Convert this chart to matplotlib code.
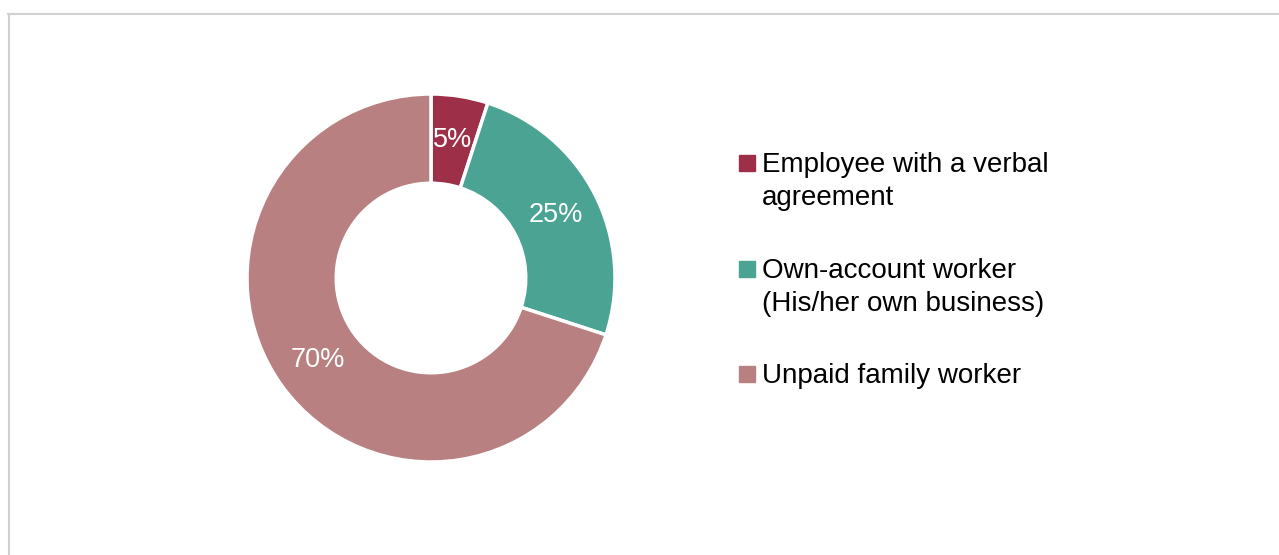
import matplotlib.pyplot as plt
from matplotlib.patches import Rectangle
from matplotlib.lines import Line2D

plt.rcParams['font.family'] = ['Liberation Sans', 'DejaVu Sans']

# Data from the image
categories = ['Employee with a verbal\nagreement',
              'Own-account worker\n(His/her own business)',
              'Unpaid family worker']
shares = [5, 25, 70]
colors = ['#9E2F48', '#4BA493', '#B88080']

W, H = 1279, 555
fig = plt.figure(figsize=(W / 100, H / 100), dpi=100)

# light grey frame (top and left edges visible)
fig.add_artist(Line2D([8 / W, 1], [1 - 13.5 / H, 1 - 13.5 / H], color='#D0D0D0', lw=1.5))
fig.add_artist(Line2D([8.5 / W, 8.5 / W], [0, 1 - 13.5 / H], color='#D0D0D0', lw=1.5))

# donut
cx, cy, r = 431, 278, 184
ax = fig.add_axes([(cx - r) / W, (H - cy - r) / H, 2 * r / W, 2 * r / H])
wedges, texts, autotexts = ax.pie(
    shares, colors=colors, startangle=90, counterclock=False, radius=1,
    autopct='%1.0f%%', pctdistance=0.76,
    wedgeprops=dict(width=0.485, edgecolor='white', linewidth=2.5),
    textprops=dict(color='white', fontsize=19.5))
ax.set_xlim(-1, 1)
ax.set_ylim(-1, 1)
ax.set_aspect('equal')
ax.axis('off')

# legend drawn by hand so the marker sits on the first line
baselines = [172, 278, 383]
line_gap = 33
for label, col, yb in zip(categories, colors, baselines):
    fig.add_artist(Rectangle((739 / W, (H - yb + 1) / H), 16 / W, 16 / H,
                             color=col, transform=fig.transFigure))
    for i, line in enumerate(label.split('\n')):
        fig.text(762 / W, (H - yb - i * line_gap) / H, line, fontsize=20,
                 color='black', va='baseline', ha='left')

fig.savefig('out.png', dpi=100)
